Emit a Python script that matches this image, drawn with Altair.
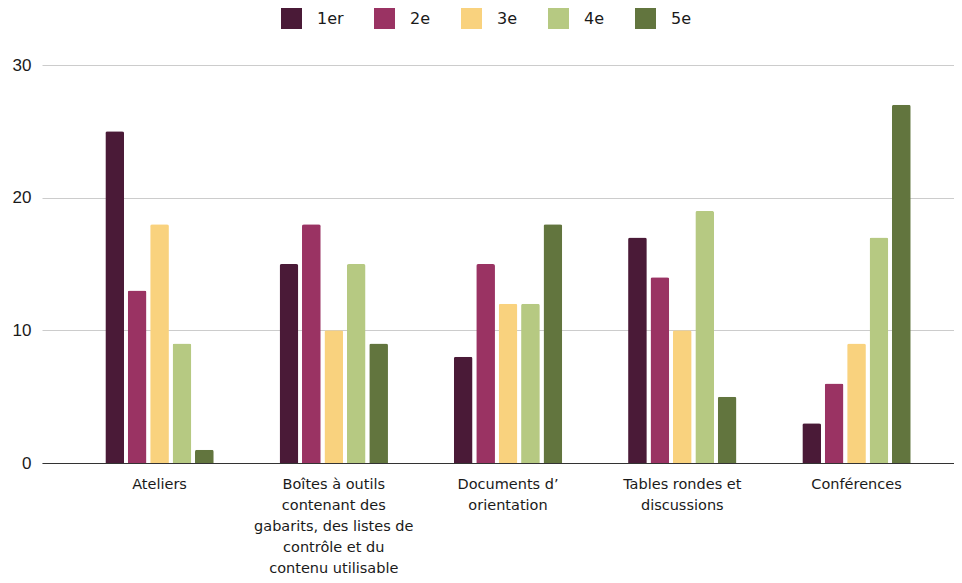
import altair as alt
import pandas as pd

categories = [
    "Ateliers",
    "Boîtes à outils\ncontenant des\ngabarits, des listes de\ncontrôle et du\ncontenu utilisable",
    "Documents d’\norientation",
    "Tables rondes et\ndiscussions",
    "Conférences",
]
series = ["1er", "2e", "3e", "4e", "5e"]
colors = ["#4a1a37", "#9a3363", "#f9d27e", "#b6c982", "#62753e"]
values = {
    "1er": [25, 15, 8, 17, 3],
    "2e": [13, 18, 15, 14, 6],
    "3e": [18, 10, 12, 10, 9],
    "4e": [9, 15, 12, 19, 17],
    "5e": [1, 9, 18, 5, 27],
}

rows = []
for s in series:
    for c, v in zip(categories, values[s]):
        rows.append({"cat": c, "rang": s, "val": v})
df = pd.DataFrame(rows)

chart = alt.Chart(df).mark_bar(cornerRadiusTopLeft=2, cornerRadiusTopRight=2).encode(
    x=alt.X(
        "cat:N",
        sort=categories,
        title=None,
        scale=alt.Scale(paddingInner=0.378, paddingOuter=0.306, align=0.594),
        axis=alt.Axis(
            labelExpr="split(datum.value, '\\n')",
            labelAngle=0,
            labelFont="DejaVu Sans",
            labelFontSize=14.5,
            labelColor="#1a1a1a",
            labelLineHeight=21,
            labelPadding=14,
            labelLimit=300,
            ticks=False,
            domainColor="#333333",
            domainWidth=1,
            grid=False,
        ),
    ),
    xOffset=alt.XOffset(
        "rang:N",
        sort=series,
        scale=alt.Scale(paddingInner=0.165, paddingOuter=0),
    ),
    y=alt.Y(
        "val:Q",
        title=None,
        scale=alt.Scale(domain=[0, 30], nice=False),
        axis=alt.Axis(
            values=[0, 10, 20, 30],
            labelFont="Liberation Sans",
            labelFontSize=17,
            labelColor="#1a1a1a",
            labelPadding=11,
            ticks=False,
            domain=False,
            gridColor="#cccccc",
            minExtent=34,
            maxExtent=34,
        ),
    ),
    color=alt.Color(
        "rang:N",
        sort=series,
        scale=alt.Scale(domain=series, range=colors),
        legend=alt.Legend(
            title=None,
            orient="none",
            direction="horizontal",
            legendX=239,
            legendY=-57,
            symbolType="square",
            symbolSize=441,
            symbolStrokeWidth=0,
            symbolOpacity=1,
            labelFont="DejaVu Sans",
            labelFontSize=16,
            labelColor="#1a1a1a",
            labelOffset=15,
            columnPadding=30,
            padding=0,
        ),
    ),
).properties(
    width=912,
    height=398,
    padding=0,
).configure_view(stroke=None)

chart.save("out.html", embed_options={"renderer": "svg", "actions": False})
